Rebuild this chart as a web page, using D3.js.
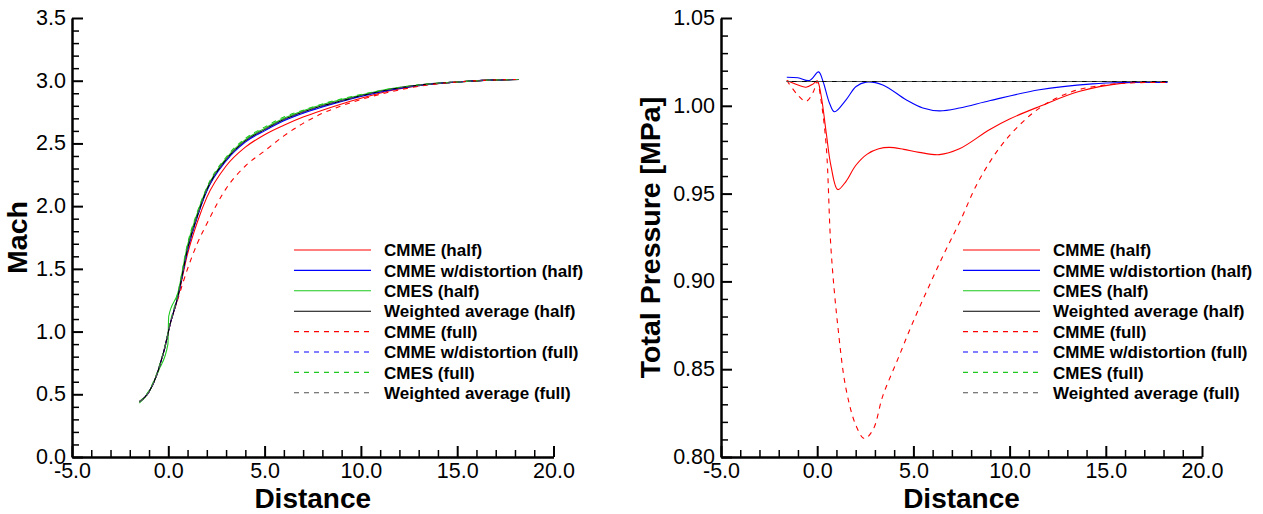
<!DOCTYPE html>
<html><head><meta charset="utf-8">
<script src="https://cdn.jsdelivr.net/npm/d3@7"></script>
<style>
html,body{margin:0;padding:0;background:#fff;}
svg{display:block;}
text{font-family:"Liberation Sans",Arial,Helvetica,sans-serif;fill:#000;}
</style></head><body>
<svg id="chart" width="1263" height="514"></svg>
<script>
// ---------------- DATA ----------------
const seriesNames = ["CMME (half)","CMME w/distortion (half)","CMES (half)","Weighted average (half)",
                     "CMME (full)","CMME w/distortion (full)","CMES (full)","Weighted average (full)"];

// Left panel: Mach vs Distance
const machX = [-1.5,-1.0,-0.5,-0.02,0.02,0.5,1.0,1.5,2.0,3.0,4.0,5.0,6.0,7.0,8.0,9.0,10.0,11.5,13.0,15.0,16.7,18.2];
const machCmmeHalf     = [0.44,0.52,0.70,0.98,1.01,1.27,1.62,1.87,2.07,2.32,2.47,2.57,2.645,2.71,2.765,2.815,2.86,2.92,2.96,2.99,3.005,3.01];
const machDistHalf     = [0.44,0.52,0.70,0.98,1.01,1.28,1.65,1.91,2.12,2.36,2.51,2.60,2.68,2.74,2.79,2.835,2.875,2.925,2.96,2.99,3.005,3.01];
const machCmesHalf     = [0.43,0.52,0.69,0.90,1.12,1.31,1.69,1.94,2.14,2.38,2.53,2.62,2.70,2.76,2.81,2.85,2.885,2.935,2.965,2.99,3.005,3.01];
const machWeightedHalf = [0.44,0.52,0.70,0.98,1.01,1.28,1.66,1.92,2.13,2.37,2.52,2.61,2.69,2.75,2.80,2.84,2.88,2.93,2.965,2.99,3.005,3.01];
const machCmmeFull     = [0.44,0.52,0.70,0.98,1.01,1.26,1.50,1.70,1.86,2.14,2.32,2.44,2.56,2.66,2.74,2.80,2.85,2.91,2.955,2.99,3.005,3.01];
const machDistFull     = [0.44,0.52,0.70,0.98,1.01,1.28,1.65,1.915,2.125,2.365,2.515,2.605,2.685,2.745,2.795,2.84,2.878,2.928,2.963,2.99,3.005,3.01];
const machCmesFull     = [0.44,0.53,0.71,0.99,1.02,1.31,1.70,1.95,2.15,2.39,2.54,2.63,2.71,2.765,2.815,2.855,2.89,2.935,2.967,2.99,3.005,3.01];
const machWeightedFull = [0.44,0.52,0.70,0.98,1.01,1.28,1.66,1.92,2.13,2.37,2.52,2.61,2.69,2.75,2.80,2.84,2.88,2.93,2.965,2.99,3.005,3.01];

// Right panel: Total pressure [MPa] vs Distance
const ptCmmeHalfX = [-1.58,-1.0,-0.58,-0.2,0,0.2,0.47,0.72,1.07,1.5,2.0,2.6,3.2,3.75,4.5,5.3,6.35,7.39,8.95,10.0,11.55,13.6,15.9,18.2];
const ptCmmeHalf  = [1.0144,1.0118,1.0106,1.0125,1.0142,1.006,0.9845,0.9655,0.9523,0.957,0.966,0.9725,0.9755,0.9763,0.9752,0.9735,0.9722,0.9755,0.9864,0.9925,0.9996,1.0081,1.0129,1.0133];
const ptDistHalfX = [-1.58,-1.0,-0.4,0.07,0.3,0.64,0.9,1.5,2.02,2.54,3.41,4.62,5.49,6.35,7.39,9.0,11.55,14.3,15.9,18.2];
const ptDistHalf  = [1.0163,1.016,1.0144,1.0193,1.014,1.0015,0.9966,1.0034,1.011,1.0135,1.0119,1.0034,0.9987,0.9971,0.9987,1.003,1.0091,1.0125,1.0133,1.0133];
const ptCmmeFullX = [-1.58,-1.0,-0.58,-0.2,0,0.2,0.47,0.72,1.07,1.5,2.02,2.45,2.9,3.41,4.2,4.97,5.8,6.6,7.39,8.43,9.81,11.55,13.25,15.0,16.5,18.2];
const ptCmmeFull  = [1.0144,1.006,1.0025,1.008,1.0138,1.003,0.977,0.918,0.8747,0.8387,0.8178,0.8105,0.8155,0.8348,0.856,0.8766,0.897,0.916,0.9334,0.958,0.9807,0.9987,1.0081,1.0119,1.0131,1.0133];
const ptFlatX     = [-1.58,18.2];
const ptDistFull     = [1.0138,1.0138];
const ptCmesHalf     = [1.0138,1.0138];
const ptWeightedHalf = [1.0138,1.0138];
const ptCmesFull     = [1.0138,1.0138];
const ptWeightedFull = [1.0138,1.0138];

const xTicks = [-5,0,5,10,15,20];
const machTicks = [0,0.5,1.0,1.5,2.0,2.5,3.0,3.5];
const ptTicks = [0.80,0.85,0.90,0.95,1.00,1.05];

// ---------------- STYLE ----------------
const colors = ["#ff0000","#0000ff","#1ec81e","#000000","#ff0000","#0000ff","#1ec81e","#505050"];
const dashes = [null,null,null,null,"5,5","5,5","5,5","5,5"];

const svg = d3.select("#chart");

function panel(cfg){
  const x = d3.scaleLinear().domain([-5,20]).range([cfg.x0, cfg.x1]);
  const y = d3.scaleLinear().domain(cfg.yDomain).range([457,18]);
  const g = svg.append("g");

  // minor ticks
  const xMinor = d3.range(-5,20.001,1).filter(v=>Math.abs(v%5)>1e-6);
  const yMinor = d3.range(cfg.yDomain[0], cfg.yDomain[1]+1e-9, cfg.yMinorStep)
      .filter(v=>cfg.yTicks.every(t=>Math.abs(t-v)>1e-6));
  g.append("g").attr("transform",`translate(0,457)`)
    .call(d3.axisBottom(x).tickValues(xMinor).tickSize(-7).tickFormat(""))
    .call(s=>{s.select(".domain").remove(); s.selectAll("line").attr("stroke-width",1.5);});
  g.append("g").attr("transform",`translate(${cfg.x0},0)`)
    .call(d3.axisLeft(y).tickValues(yMinor).tickSize(-7).tickFormat(""))
    .call(s=>{s.select(".domain").remove(); s.selectAll("line").attr("stroke-width",1.5);});

  // major axes
  g.append("g").attr("transform",`translate(0,457)`)
    .call(d3.axisBottom(x).tickValues(xTicks).tickSize(-11).tickSizeOuter(0).tickPadding(6)
      .tickFormat(d=>d.toFixed(1)))
    .call(s=>{
      s.select(".domain").attr("stroke-width",2.5);
      s.selectAll(".tick line").attr("stroke-width",2);
      s.selectAll("text").style("font-size","21.5px").attr("fill","#000");
    });
  g.append("g").attr("transform",`translate(${cfg.x0},0)`)
    .call(d3.axisLeft(y).tickValues(cfg.yTicks).tickSize(-11).tickSizeOuter(0).tickPadding(6)
      .tickFormat(d=>d.toFixed(cfg.yDigits)))
    .call(s=>{
      s.select(".domain").attr("stroke-width",2.5);
      s.selectAll(".tick line").attr("stroke-width",2);
      s.selectAll("text").style("font-size","21.5px").attr("fill","#000").attr("dy","0.3em");
    });

  // axis titles
  g.append("text").attr("x",(cfg.x0+cfg.x1)/2).attr("y",508)
    .attr("text-anchor","middle").style("font-size","28px").style("font-weight","bold")
    .text("Distance");
  g.append("text").attr("transform",`translate(${cfg.titleX},237.5) rotate(-90)`)
    .attr("text-anchor","middle").style("font-size","28.5px").style("font-weight","bold")
    .text(cfg.yTitle);

  // curves
  const line = d3.line().x(d=>x(d[0])).y(d=>y(d[1])).curve(cfg.curve);
  cfg.series.forEach((s,i)=>{
    const pts = s.x.map((v,k)=>[v,s.y[k]]);
    g.append("path").attr("d",line(pts)).attr("fill","none")
      .attr("stroke",colors[i]).attr("stroke-width",1.1)
      .attr("stroke-dasharray",dashes[i]);
  });

  // legend
  const lg = g.append("g");
  seriesNames.forEach((name,i)=>{
    const yy = 250 + i*20.4;
    lg.append("line").attr("x1",cfg.legX).attr("x2",cfg.legX+77)
      .attr("y1",yy).attr("y2",yy).attr("stroke",colors[i]).attr("stroke-width",1.1)
      .attr("stroke-dasharray",dashes[i]);
    lg.append("text").attr("x",cfg.legX+90).attr("y",yy).attr("dy","0.36em")
      .style("font-size","17px").style("font-weight","bold").text(name);
  });
}

panel({
  x0:72, x1:553.5, yDomain:[0,3.5], yTicks:machTicks, yMinorStep:0.1, yDigits:1,
  yTitle:"Mach", titleX:27, legX:294, curve:d3.curveMonotoneX,
  series:[
    {x:machX,y:machCmmeHalf},{x:machX,y:machDistHalf},{x:machX,y:machCmesHalf},{x:machX,y:machWeightedHalf},
    {x:machX,y:machCmmeFull},{x:machX,y:machDistFull},{x:machX,y:machCmesFull},{x:machX,y:machWeightedFull}
  ]
});
panel({
  x0:721, x1:1202, yDomain:[0.80,1.05], yTicks:ptTicks, yMinorStep:0.01, yDigits:2,
  yTitle:"Total Pressure [MPa]", titleX:660, legX:963, curve:d3.curveCatmullRom.alpha(0.5),
  series:[
    {x:ptCmmeHalfX,y:ptCmmeHalf},{x:ptDistHalfX,y:ptDistHalf},{x:ptFlatX,y:ptCmesHalf},{x:ptFlatX,y:ptWeightedHalf},
    {x:ptCmmeFullX,y:ptCmmeFull},{x:ptFlatX,y:ptDistFull},{x:ptFlatX,y:ptCmesFull},{x:ptFlatX,y:ptWeightedFull}
  ]
});
</script>
</body></html>
